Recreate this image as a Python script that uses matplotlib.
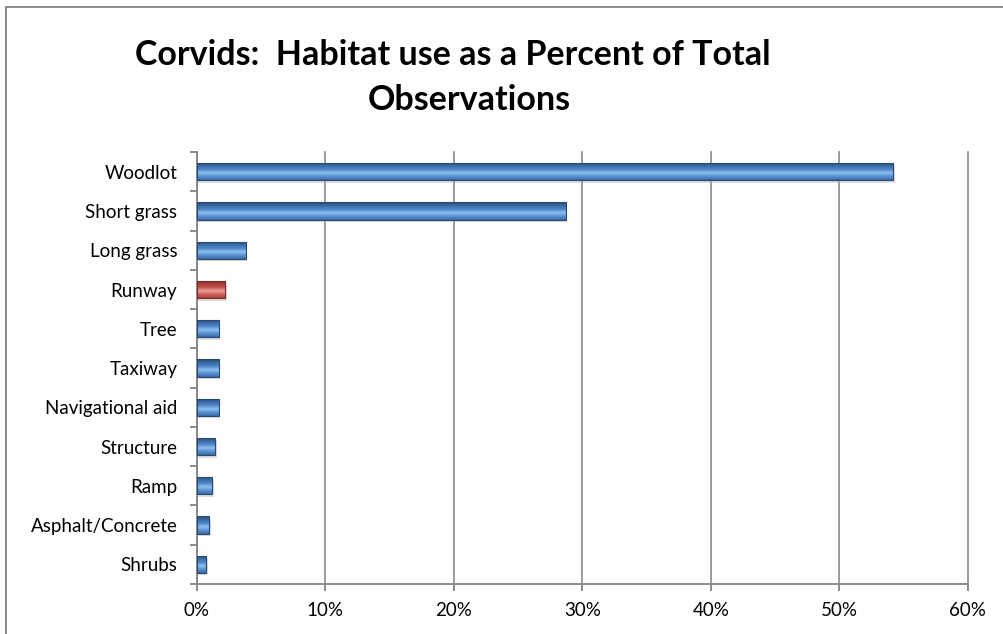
import numpy as np
import matplotlib.pyplot as plt
from matplotlib.patches import Rectangle
from matplotlib.colors import LinearSegmentedColormap
from matplotlib.ticker import FuncFormatter, FixedLocator

habitats = ['Woodlot', 'Short grass', 'Long grass', 'Runway', 'Tree', 'Taxiway',
            'Navigational aid', 'Structure', 'Ramp', 'Asphalt/Concrete', 'Shrubs']
percent = [54.2, 28.7, 3.8, 2.2, 1.7, 1.7, 1.7, 1.45, 1.2, 0.98, 0.75]
highlight = ['Runway']

# bevel colours (bottom dark -> mid -> bright stripe -> top edge)
blue_shades = ['#2a4a72', '#3a6aa6', '#4f86c8', '#8cc0f0', '#5a92d2', '#3c6aa4']
red_shades = ['#7e2a28', '#a8403d', '#c0504d', '#f0a09c', '#d2605c', '#a8403d']

plt.rcParams['font.family'] = ['Lato', 'DejaVu Sans']

fig = plt.figure(figsize=(10.04, 6.34), dpi=100)
ax = fig.add_axes([0.196, 0.079, 0.768, 0.681])

y = np.arange(len(habitats))
bars = ax.barh(y, percent, height=0.44, color='none', edgecolor='none', zorder=3)

for patch, name in zip(bars.patches, habitats):
    shades = red_shades if name in highlight else blue_shades
    cmap = LinearSegmentedColormap.from_list('bevel', shades)
    bb = patch.get_bbox()
    # soft drop shadow
    sh = Rectangle((bb.x0, bb.y0 + 0.06), bb.width + 0.12, bb.height,
                   facecolor='#b0b0b0', alpha=0.45, edgecolor='none', zorder=2)
    ax.add_patch(sh)
    grad = np.linspace(0, 1, 64).reshape(-1, 1)
    im = ax.imshow(grad, cmap=cmap, aspect='auto', origin='upper',
                   extent=[bb.x0, bb.x1, bb.y1, bb.y0], zorder=3,
                   interpolation='bilinear')
    im.set_clip_path(patch)
    ax.add_patch(Rectangle((bb.x0, bb.y0), bb.width, bb.height, facecolor='none',
                           edgecolor=shades[0], linewidth=0.8, zorder=4))

ax.set_xlim(0, 60)
ax.set_ylim(len(habitats) - 0.5, -0.5)
ax.set_xticks(np.arange(0, 61, 10))
ax.xaxis.set_major_formatter(FuncFormatter(lambda v, p: f'{v:.0f}%'))
ax.set_yticks(y)
ax.set_yticklabels(habitats)
ax.yaxis.set_minor_locator(FixedLocator(np.arange(-0.5, len(habitats), 1)))

ax.grid(axis='x', color='#8a8a8a', linewidth=1.2, zorder=0)
for gl in ax.get_xgridlines():
    gl.set_clip_on(False)
ax.set_axisbelow(True)
for s in ['top', 'right']:
    ax.spines[s].set_visible(False)
for s in ['left', 'bottom']:
    ax.spines[s].set_color('#8a8a8a')
    ax.spines[s].set_linewidth(1.4)

ax.tick_params(axis='y', which='major', length=0, pad=14, labelsize=13.5)
ax.tick_params(axis='y', which='minor', length=5, color='#8a8a8a', width=1.4)
ax.tick_params(axis='x', length=5, color='#8a8a8a', width=1.4, labelsize=13.5, pad=8)

fig.text(0.451, 0.913, 'Corvids:  Habitat use as a Percent of Total',
         ha='center', va='center', fontsize=24.5, fontweight='bold')
fig.text(0.467, 0.842, 'Observations', ha='center', va='center',
         fontsize=24.5, fontweight='bold')

# outer chart frame
fig.patches.append(Rectangle((0.006, -0.05), 1.2, 1.039, transform=fig.transFigure,
                             facecolor='none', edgecolor='#8a8a8a', linewidth=1.4))

fig.savefig('out.png', dpi=100)
